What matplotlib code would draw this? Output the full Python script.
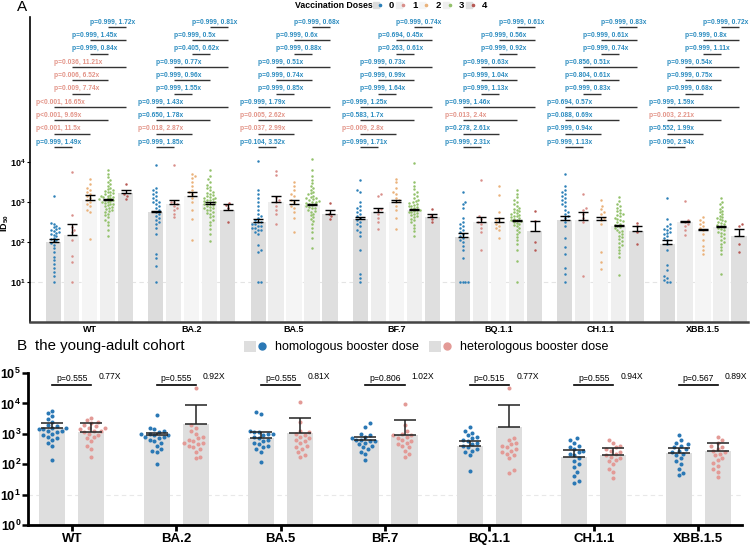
import numpy as np
import matplotlib
matplotlib.use("Agg")
import matplotlib.pyplot as plt
from matplotlib.lines import Line2D
from matplotlib.patches import Patch
from matplotlib.legend_handler import HandlerTuple
from matplotlib.ticker import NullLocator

plt.rcParams['font.family'] = ['Liberation Sans', 'DejaVu Sans']
plt.rcParams['mathtext.fontset'] = 'custom'
plt.rcParams['mathtext.rm'] = 'Liberation Sans'
plt.rcParams['mathtext.bf'] = 'Liberation Sans:bold'
plt.rcParams['mathtext.it'] = 'Liberation Sans:italic'

# ---- DATA (log10 titres) ----
variants = ["WT", "BA.2", "BA.5", "BF.7", "BQ.1.1", "CH.1.1", "XBB.1.5"]
doses = ["0", "1", "2", "3", "4"]

# panel A: bar heights (geometric mean) and upper error, rows = dose
gm_log = [
    [2.0, 2.75, 2.5, 2.58, 2.13, 2.54, 1.96],
    [2.17, 2.96, 3.0, 2.75, 2.5, 2.56, 2.5],
    [3.05, 3.15, 2.95, 3.0, 2.5, 2.55, 2.29],
    [3.04, 2.96, 2.92, 2.79, 2.53, 2.39, 2.38],
    [3.22, 2.81, 2.71, 2.63, 2.28, 2.28, 2.14],
]
cap_log = [
    [2.08, 2.78, 2.58, 2.63, 2.22, 2.64, 2.04],
    [2.44, 3.06, 3.15, 2.86, 2.63, 2.75, 2.52],
    [3.17, 3.25, 3.04, 3.06, 2.61, 2.63, 2.33],
    [3.07, 2.99, 2.96, 2.82, 2.56, 2.42, 2.41],
    [3.31, 2.94, 2.79, 2.71, 2.52, 2.39, 2.32],
]

dose0_pts = [
    [1.0, 1.15, 1.26, 1.34, 1.45, 1.54, 1.62, 1.74, 1.85, 1.93, 1.98, 2.02, 2.04, 2.08, 2.11, 2.15, 2.18, 2.2, 2.22, 2.24, 2.27, 2.29, 2.32, 2.34, 2.38, 2.41, 2.45, 2.48, 3.15],
    [1.0, 1.4, 1.6, 1.7, 2.2, 2.35, 2.45, 2.5, 2.55, 2.6, 2.65, 2.7, 2.75, 2.8, 2.85, 2.9, 2.95, 3.0, 3.0, 3.05, 3.1, 3.15, 3.2, 3.25, 3.3, 3.35, 3.92],
    [1.0, 1.0, 1.75, 1.8, 1.92, 2.2, 2.25, 2.3, 2.3, 2.35, 2.35, 2.4, 2.4, 2.45, 2.45, 2.5, 2.5, 2.55, 2.6, 2.65, 2.7, 2.8, 2.9, 3.0, 3.1, 3.2, 3.3, 4.02],
    [1.0, 1.1, 1.2, 1.8, 2.15, 2.25, 2.3, 2.4, 2.45, 2.5, 2.55, 2.6, 2.65, 2.7, 2.75, 2.8, 2.85, 2.9, 3.0, 3.25, 3.3, 3.54],
    [1.0, 1.0, 1.0, 1.0, 1.6, 1.8, 1.9, 2.0, 2.05, 2.1, 2.15, 2.2, 2.25, 2.3, 2.35, 2.4, 2.45, 2.5, 2.6, 2.85, 2.95, 3.0, 3.25],
    [1.0, 1.2, 1.35, 1.7, 1.87, 2.1, 2.4, 2.5, 2.6, 2.65, 2.7, 2.75, 2.8, 2.9, 2.95, 3.0, 3.05, 3.1, 3.15, 3.2, 3.25, 3.3, 3.4, 3.69],
    [1.0, 1.0, 1.05, 1.1, 1.15, 1.3, 1.42, 1.79, 1.95, 2.05, 2.1, 2.15, 2.2, 2.22, 2.25, 2.3, 2.32, 2.35, 2.4, 2.45, 2.58, 3.1],
]
dose1_pts = [
    [1.0, 1.5, 1.66, 2.04, 2.25, 2.3, 2.37, 2.67, 3.75],
    [2.62, 2.7, 2.8, 2.85, 2.9, 2.95, 3.0, 3.0, 3.92],
    [2.46, 2.7, 2.8, 2.9, 3.0, 3.05, 3.12, 3.67, 3.77],
    [2.33, 2.5, 2.6, 2.7, 2.8, 2.83, 3.15, 3.21],
    [1.79, 2.25, 2.35, 2.45, 2.5, 2.58, 2.65, 3.54],
    [1.14, 2.5, 2.6, 2.7, 2.79, 2.85, 3.19],
    [2.17, 2.3, 2.4, 2.45, 2.5, 2.55, 3.02],
]
dose2_pts = [
    [2.08, 2.75, 2.8, 2.9, 2.95, 3.0, 3.05, 3.1, 3.15, 3.2, 3.25, 3.3, 3.35, 3.46, 3.58],
    [2.04, 2.58, 2.79, 3.0, 3.1, 3.2, 3.25, 3.3, 3.4, 3.5, 3.6, 3.65, 3.71],
    [2.25, 2.6, 2.75, 2.85, 2.9, 3.0, 3.05, 3.15, 3.2, 3.3, 3.4, 3.5],
    [2.33, 2.6, 2.8, 2.9, 3.0, 3.05, 3.1, 3.2, 3.25, 3.35, 3.5, 3.58],
    [2.1, 2.3, 2.35, 2.4, 2.45, 2.5, 2.54, 2.6, 2.75, 3.17, 3.39],
    [1.33, 1.5, 1.75, 2.46, 2.55, 2.6, 2.7, 2.75, 2.83, 2.9, 3.04],
    [1.7, 1.8, 1.9, 2.05, 2.2, 2.3, 2.35, 2.4, 2.45, 2.5, 2.55, 2.62],
]
dose3_pts = [
    [2.14, 2.3, 2.42, 2.5, 2.56, 2.62, 2.67, 2.71, 2.75, 2.78, 2.8, 2.83, 2.85, 2.87, 2.9, 2.92, 2.94, 2.96, 2.98, 3.0, 3.01, 3.03, 3.04, 3.06, 3.07, 3.09, 3.1, 3.12, 3.13, 3.15, 3.16, 3.18, 3.2, 3.22, 3.24, 3.26, 3.28, 3.3, 3.33, 3.36, 3.4, 3.44, 3.5, 3.56, 3.63, 3.7, 3.79],
    [2.02, 2.2, 2.32, 2.42, 2.5, 2.56, 2.62, 2.66, 2.7, 2.73, 2.76, 2.79, 2.81, 2.84, 2.86, 2.88, 2.9, 2.92, 2.94, 2.96, 2.97, 2.99, 3.0, 3.02, 3.04, 3.05, 3.07, 3.09, 3.11, 3.13, 3.15, 3.17, 3.2, 3.23, 3.26, 3.3, 3.34, 3.38, 3.43, 3.5, 3.57, 3.65, 3.79],
    [1.86, 2.1, 2.25, 2.36, 2.45, 2.52, 2.58, 2.63, 2.67, 2.71, 2.75, 2.78, 2.81, 2.84, 2.86, 2.88, 2.9, 2.92, 2.94, 2.96, 2.98, 3.0, 3.01, 3.03, 3.05, 3.07, 3.09, 3.11, 3.13, 3.16, 3.19, 3.22, 3.26, 3.3, 3.35, 3.4, 3.47, 3.55, 3.65, 3.8, 4.06],
    [2.14, 2.27, 2.36, 2.43, 2.49, 2.54, 2.58, 2.62, 2.65, 2.68, 2.7, 2.72, 2.74, 2.76, 2.78, 2.8, 2.81, 2.83, 2.85, 2.87, 2.89, 2.91, 2.93, 2.95, 2.97, 3.0, 3.03, 3.06, 3.1, 3.14, 3.19, 3.25, 3.32, 3.4, 3.5, 3.97],
    [1.0, 1.52, 1.8, 1.95, 2.05, 2.13, 2.2, 2.26, 2.31, 2.35, 2.39, 2.42, 2.45, 2.48, 2.5, 2.52, 2.54, 2.56, 2.58, 2.6, 2.62, 2.64, 2.66, 2.68, 2.7, 2.72, 2.74, 2.77, 2.8, 2.83, 2.86, 2.9, 2.95, 3.0, 3.06, 3.13, 3.2, 3.29],
    [1.18, 1.62, 1.72, 1.8, 1.87, 1.93, 1.98, 2.03, 2.08, 2.12, 2.16, 2.2, 2.24, 2.28, 2.31, 2.34, 2.37, 2.4, 2.43, 2.46, 2.49, 2.52, 2.55, 2.58, 2.61, 2.64, 2.67, 2.7, 2.73, 2.77, 2.81, 2.85, 2.9, 2.96, 3.03, 3.12],
    [1.19, 1.7, 1.8, 1.88, 1.95, 2.01, 2.06, 2.11, 2.15, 2.19, 2.23, 2.26, 2.29, 2.32, 2.35, 2.38, 2.4, 2.42, 2.45, 2.47, 2.5, 2.52, 2.54, 2.57, 2.6, 2.63, 2.66, 2.7, 2.74, 2.78, 2.83, 2.88, 2.94, 3.0, 3.11],
]
dose4_pts = [
    [3.08, 3.15, 3.2, 3.46],
    [2.5, 2.85, 2.92, 2.97],
    [2.58, 2.65, 2.7, 2.97],
    [2.5, 2.58, 2.65, 2.83],
    [1.79, 2.0, 2.52, 2.77],
    [1.94, 2.25, 2.4, 2.47],
    [1.75, 1.96, 2.4, 2.44],
]

# pairwise comparisons, bottom row first
pairs = [(0, 1), (0, 2), (0, 3), (0, 4), (1, 2), (1, 3), (1, 4), (2, 3), (2, 4), (3, 4)]
pvals = [
    [0.999, 0.0, 0.0, 0.0, 0.009, 0.006, 0.036, 0.999, 0.999, 0.999],
    [0.999, 0.018, 0.650, 0.999, 0.999, 0.999, 0.999, 0.405, 0.999, 0.999],
    [0.104, 0.037, 0.005, 0.999, 0.999, 0.999, 0.999, 0.999, 0.999, 0.999],
    [0.999, 0.009, 0.583, 0.999, 0.999, 0.999, 0.999, 0.263, 0.694, 0.999],
    [0.999, 0.278, 0.013, 0.999, 0.999, 0.999, 0.999, 0.999, 0.999, 0.999],
    [0.999, 0.999, 0.088, 0.694, 0.999, 0.804, 0.856, 0.999, 0.999, 0.999],
    [0.090, 0.552, 0.003, 0.999, 0.999, 0.999, 0.999, 0.999, 0.999, 0.999],
]
folds = [
    [1.49, 11.5, 9.69, 16.65, 7.74, 6.52, 11.21, 0.84, 1.45, 1.72],
    [1.85, 2.87, 1.78, 1.43, 1.55, 0.96, 0.77, 0.62, 0.5, 0.81],
    [3.52, 2.99, 2.62, 1.79, 0.85, 0.74, 0.51, 0.88, 0.6, 0.68],
    [1.71, 2.8, 1.7, 1.25, 1.64, 0.99, 0.73, 0.61, 0.45, 0.74],
    [2.31, 2.61, 2.4, 1.46, 1.13, 1.04, 0.63, 0.92, 0.56, 0.61],
    [1.13, 0.94, 0.69, 0.57, 0.83, 0.61, 0.51, 0.74, 0.61, 0.83],
    [2.94, 1.99, 2.21, 1.59, 0.68, 0.75, 0.54, 1.11, 0.8, 0.72],
]

# panel B
homo_gm = [3.18, 2.96, 2.85, 2.78, 2.6, 2.23, 2.36]
homo_cap = [3.35, 3.04, 3.05, 2.88, 2.76, 2.47, 2.54]
hetero_gm = [3.07, 3.32, 3.04, 2.96, 3.24, 2.3, 2.44]
hetero_cap = [3.35, 3.95, 3.53, 3.46, 3.95, 2.54, 2.69]
homo_pts = [
    [2.14, 2.6, 2.7, 2.8, 2.85, 2.9, 2.95, 3.0, 3.05, 3.1, 3.1, 3.15, 3.15, 3.2, 3.2, 3.25, 3.3, 3.4, 3.5, 3.6, 3.7, 3.76],
    [2.0, 2.4, 2.45, 2.5, 2.6, 2.7, 2.75, 2.8, 2.85, 2.9, 2.9, 2.95, 2.95, 3.0, 3.0, 3.05, 3.1, 3.15, 3.2, 3.62],
    [2.08, 2.4, 2.5, 2.55, 2.6, 2.65, 2.7, 2.75, 2.8, 2.85, 2.9, 2.95, 3.0, 3.0, 3.05, 3.07, 3.1, 3.65, 3.73],
    [2.14, 2.35, 2.4, 2.5, 2.55, 2.6, 2.65, 2.7, 2.75, 2.75, 2.8, 2.8, 2.85, 2.9, 2.95, 3.0, 3.24, 3.35],
    [1.76, 2.3, 2.4, 2.45, 2.5, 2.55, 2.6, 2.65, 2.7, 2.75, 2.8, 2.85, 2.9, 2.95, 3.02, 3.1, 3.24],
    [1.37, 1.45, 1.6, 1.75, 1.9, 2.0, 2.1, 2.2, 2.3, 2.35, 2.4, 2.45, 2.5, 2.55, 2.6, 2.7, 2.8, 2.85],
    [1.65, 1.7, 1.85, 2.0, 2.1, 2.2, 2.3, 2.35, 2.4, 2.45, 2.5, 2.55, 2.6, 2.65, 2.7, 2.8, 2.96],
]
hetero_pts = [
    [2.25, 2.5, 2.6, 2.75, 2.85, 2.9, 2.95, 3.0, 3.05, 3.1, 3.1, 3.15, 3.2, 3.2, 3.25, 3.3, 3.35, 3.4, 3.45, 3.53],
    [2.2, 2.25, 2.4, 2.5, 2.55, 2.6, 2.65, 2.7, 2.7, 2.75, 2.8, 2.85, 2.9, 3.0, 3.1, 3.2, 3.3, 4.5],
    [2.25, 2.3, 2.4, 2.5, 2.55, 2.6, 2.7, 2.75, 2.8, 2.85, 2.9, 2.95, 3.0, 3.05, 3.1, 3.4, 4.06],
    [2.25, 2.35, 2.45, 2.55, 2.6, 2.65, 2.7, 2.75, 2.8, 2.85, 2.9, 2.95, 2.95, 3.0, 3.1, 3.29, 3.97],
    [1.7, 1.8, 2.2, 2.3, 2.35, 2.4, 2.45, 2.5, 2.55, 2.6, 2.65, 2.7, 2.8, 2.85, 4.5],
    [1.54, 1.75, 1.85, 2.0, 2.1, 2.15, 2.2, 2.25, 2.3, 2.35, 2.4, 2.45, 2.5, 2.55, 2.6, 2.7, 2.78],
    [1.59, 1.75, 1.85, 1.95, 2.05, 2.15, 2.2, 2.3, 2.35, 2.4, 2.45, 2.5, 2.55, 2.6, 2.7, 2.8, 2.91],
]
b_pvals = [0.555, 0.555, 0.555, 0.806, 0.515, 0.555, 0.567]
b_folds = ["0.77X", "0.92X", "0.81X", "1.02X", "0.77X", "0.94X", "0.89X"]

# ---- STYLE ----
bar_cols = ['#dcdcdc', '#ededed', '#f5f5f5', '#efefef', '#dfdfdf']
pt_cols = ['#2d80b8', '#d98f8a', '#eab27b', '#93c16b', '#b85a55']
blue_txt = '#2b8cc0'
red_txt = '#e39488'
homo_col = '#2a78b5'
hetero_col = '#e39a96'


def swarm(vals, d, xs, ys):
    # beeswarm offsets (in x data units) for log10 values
    vals = np.asarray(vals, dtype=float)
    placed = []
    out = np.zeros(len(vals))
    for n, i in enumerate(np.argsort(vals, kind='stable')):
        y = vals[i] * ys
        k = 0
        hit = None
        while hit is None:
            if k == 0:
                cands = [0.0]
            else:
                cands = [k * d * 0.5, -k * d * 0.5] if n % 2 else [-k * d * 0.5, k * d * 0.5]
            for c in cands:
                if all((c - px) ** 2 + (y - py) ** 2 >= d * d for px, py in placed):
                    hit = c
                    break
            k += 1
        placed.append((hit, y))
        out[i] = hit / xs
    return out


fig = plt.figure(figsize=(7.5, 5.48), dpi=100)

# ================= PANEL A =================
ax1 = fig.add_axes([30 / 750, 1 - 322 / 548, 718 / 750, 305 / 548])
ax1.set_yscale('log')
ax1.set_ylim(1, 10 ** 7.62)
ax1.set_xlim(-0.582, 6.44)
step, bw = 0.176, 0.147
xsA, ysA = 102.2, 40.0
pts_all = [dose0_pts, dose1_pts, dose2_pts, dose3_pts, dose4_pts]

ax1.axhline(10, color='#e4e4e4', lw=0.8, ls=(0, (4, 3)), zorder=0.5)
for g in range(len(variants)):
    for d in range(5):
        x = g + (d - 2) * step
        m = 10 ** gm_log[d][g]
        ax1.bar(x, m - 1, bottom=1, width=bw, color=bar_cols[d], zorder=1)
        vals = pts_all[d][g]
        offs = swarm(vals, 2.8, xsA, ysA)
        ax1.scatter(x + offs, 10 ** np.array(vals), s=3.2, color=pt_cols[d], lw=0, zorder=3)
        c = 10 ** cap_log[d][g]
        ax1.errorbar(x, m, yerr=[[0], [c - m]], fmt='none', ecolor='black',
                     elinewidth=1, capsize=3.4, capthick=1, zorder=4)
    for r, (i, j) in enumerate(pairs):
        yl = 10 ** (4.37 + 0.333 * r)
        ax1.plot([g + (i - 2) * step, g + (j - 2) * step], [yl, yl], color='#333333',
                 lw=1.0, solid_capstyle='butt', zorder=2)
        p = pvals[g][r]
        ptxt = "p<0.001" if p < 0.001 else f"p={p:.3f}"
        ax1.text(g + (i - 3) * step, yl * 10 ** 0.035, f"{ptxt}, {folds[g][r]:g}x",
                 ha='left', va='bottom', fontsize=4.8, fontweight='bold',
                 color=red_txt if p < 0.05 else blue_txt, zorder=5)

for s in ['top', 'right']:
    ax1.spines[s].set_visible(False)
ax1.spines['left'].set_linewidth(1.2)
ax1.spines['bottom'].set_linewidth(1.8)
ax1.spines['bottom'].set_color('#444444')
ax1.set_yticks([10, 100, 1000, 10000])
ax1.set_yticklabels([r'$\mathbf{10^{%d}}$' % k for k in range(1, 5)])
ax1.yaxis.set_minor_locator(NullLocator())
ax1.tick_params(axis='y', length=2, width=0.8, labelsize=6.5, pad=1)
ax1.set_xticks(range(len(variants)))
ax1.set_xticklabels(variants, fontweight='bold')
ax1.tick_params(axis='x', length=0, labelsize=6.5, pad=2)
ax1.set_ylabel(r'$\mathbf{ID_{50}}$', fontsize=6.5)
ax1.yaxis.set_label_coords(-0.027, 0.325)

fig.text(17 / 750, 1 - 7 / 548, 'A', fontsize=11, va='center', ha='left')
fig.text(295 / 750, 1 - 6 / 548, 'Vaccination Doses', fontsize=6.3, fontweight='bold',
         va='center', ha='left')
hA = [(Line2D([], [], marker='s', ms=5, color=bar_cols[d], ls='none'),
       Line2D([], [], marker='o', ms=1.6, color=pt_cols[d], ls='none')) for d in range(5)]
fig.legend(hA, doses, handler_map={tuple: HandlerTuple(ndivide=None)},
           loc='center left', bbox_to_anchor=(374 / 750, 1 - 6 / 548), ncol=5,
           frameon=False, prop={'weight': 'bold', 'size': 6.8}, handlelength=0.8,
           handletextpad=0.8, columnspacing=0.3, borderpad=0, borderaxespad=0)

# ================= PANEL B =================
ax2 = fig.add_axes([28 / 750, 1 - 525 / 548, 714 / 750, 152 / 548])
ax2.set_yscale('log')
ax2.set_ylim(1, 1e5)
ax2.set_xlim(-0.42, 6.42)
off, bwB = 0.187, 0.25
xsB, ysB = 104.3, 30.4
ax2.axhline(10, color='#e8e8e8', lw=0.8, ls=(0, (4, 3)), zorder=0.5)
for g in range(len(variants)):
    for side, gm, cap, pts, col in [(-1, homo_gm, homo_cap, homo_pts, homo_col),
                                    (1, hetero_gm, hetero_cap, hetero_pts, hetero_col)]:
        x = g + side * off
        m = 10 ** gm[g]
        ax2.bar(x, m - 1, bottom=1, width=bwB, color='#dedede', zorder=1)
        offs = swarm(pts[g], 4.6, xsB, ysB)
        ax2.scatter(x + offs, 10 ** np.array(pts[g]), s=8.5, color=col, lw=0, zorder=3)
        c = 10 ** cap[g]
        ax2.errorbar(x, m, yerr=[[0], [c - m]], fmt='none', ecolor='#222222',
                     elinewidth=1.1, capsize=8, capthick=1.1, zorder=4)
    yl = 10 ** 4.6
    ax2.plot([g - off, g + off], [yl, yl], color='black', lw=1.2, zorder=2)
    ax2.text(g, 10 ** 4.83, f"p={b_pvals[g]:.3f}", ha='center', va='center', fontsize=6.2)
    ax2.text(g + off + 0.07, 10 ** 4.88, b_folds[g], ha='left', va='center', fontsize=6.2)

for s in ['top', 'right']:
    ax2.spines[s].set_visible(False)
for s in ['left', 'bottom']:
    ax2.spines[s].set_linewidth(2)
ax2.set_yticks([1, 10, 100, 1000, 1e4, 1e5])
ax2.set_yticklabels([r'$\mathbf{10^{%d}}$' % k for k in range(6)])
ax2.yaxis.set_minor_locator(NullLocator())
ax2.tick_params(axis='y', length=4, width=1.8, labelsize=9, pad=1)
ax2.set_xticks(range(len(variants)))
ax2.set_xticklabels(variants, fontweight='bold')
ax2.tick_params(axis='x', length=4, width=2, labelsize=9.5, pad=2)

fig.text(17 / 750, 1 - 346 / 548, 'B', fontsize=11, va='center', ha='left')
fig.text(35 / 750, 1 - 346 / 548, 'the young-adult cohort', fontsize=10.8, va='center', ha='left')
hB = [(Patch(facecolor='#dedede', edgecolor='none'),
       Line2D([], [], marker='o', ms=5, color=homo_col, ls='none')),
      (Patch(facecolor='#dedede', edgecolor='none'),
       Line2D([], [], marker='o', ms=5, color=hetero_col, ls='none'))]
fig.legend(hB, ['homologous booster dose', 'heterologous booster dose'],
           handler_map={tuple: HandlerTuple(ndivide=None)},
           loc='center left', bbox_to_anchor=(244 / 750, 1 - 347 / 548), ncol=2,
           frameon=False, fontsize=9, handlelength=1.9, handleheight=1.0,
           handletextpad=0.6, columnspacing=0.8, borderpad=0, borderaxespad=0)

fig.savefig('out.png', dpi=100)
